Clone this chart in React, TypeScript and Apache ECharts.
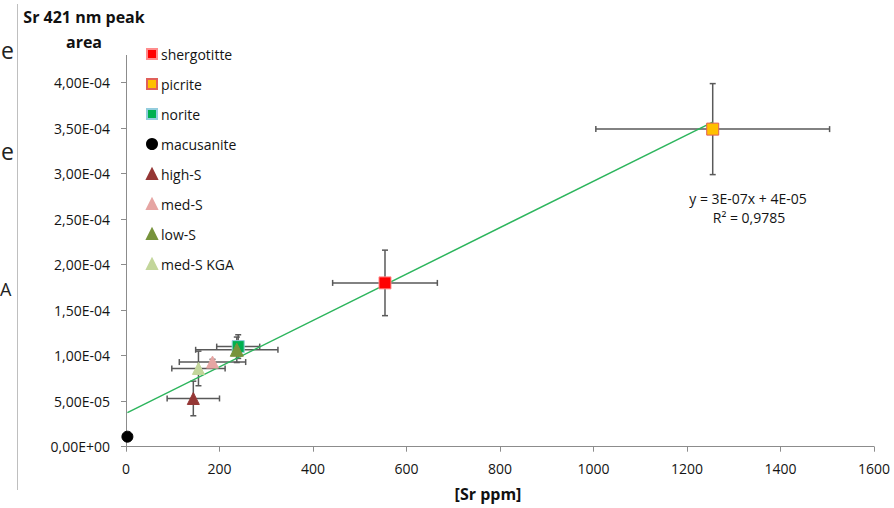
import React, { useEffect, useRef } from "react";
import * as echarts from "echarts";

// ---- data ----
const seriesNames = ["shergotitte", "picrite", "norite", "macusanite", "high-S", "med-S", "low-S", "med-S KGA"];
const xValues = [554, 1255, 240, 3, 144, 185, 237, 155];
const yValues = [1.8e-4, 3.49e-4, 1.1e-4, 1.1e-5, 5.3e-5, 9.3e-5, 1.065e-4, 8.6e-5];
const xErrors = [112, 250, 46, 0, 56, 71, 88, 57];
const yErrors = [3.6e-5, 5.0e-5, 1.3e-5, 0, 1.9e-5, 3e-6, 1.4e-5, 1.9e-5];

const xTickValues = [0, 200, 400, 600, 800, 1000, 1200, 1400, 1600];
const yTickValues = [0, 5e-5, 1e-4, 1.5e-4, 2e-4, 2.5e-4, 3e-4, 3.5e-4, 4e-4];

const trendSlope = 2.55e-7;
const trendIntercept = 3.67e-5;
const trendEquation = "y = 3E-07x + 4E-05";
const trendR2 = "R² = 0,9785";

const yAxisTitle = ["Sr 421 nm peak", "area"];
const xAxisTitle = "[Sr ppm]";

// ---- styles ----
const fills = ["#FF0000", "#FFC000", "#00B050", "#000000", "#953735", "#E6A5A3", "#77933C", "#C3D69B"];
const borders = ["#FF8C8C", "#E0605A", "#93CDDD", "#000000", "#953735", "#E6A5A3", "#77933C", "#C3D69B"];
const symbols = ["rect", "rect", "rect", "circle", "triangle", "triangle", "triangle", "triangle"];
const sizes = [12, 12, 12, 11, 12, 12, 13, 12];

function fmtY(v: number): string {
  if (Math.abs(v) < 1e-12) return "0,00E+00";
  const s = v.toExponential(2);
  const [m, e] = s.split("e");
  const ex = parseInt(e, 10);
  const sign = ex < 0 ? "-" : "+";
  const ab = Math.abs(ex);
  return m.replace(".", ",") + "E" + sign + (ab < 10 ? "0" + ab : String(ab));
}

export default function App() {
  const ref = useRef<HTMLDivElement>(null);
  useEffect(() => {
    if (!ref.current) return;
    const chart = echarts.init(ref.current, null, { renderer: "svg" });
    const font = "Open Sans";
    const textColor = "#141414";

    const errData = seriesNames.map((_, i) => [xValues[i], yValues[i], xErrors[i], yErrors[i]]);
    const tx0 = Math.min(...xValues);
    const tx1 = Math.max(...xValues);

    const scatterSeries = seriesNames.map((name, i) => ({
      name,
      type: "scatter",
      symbol: symbols[i],
      symbolSize: sizes[i],
      z: 5,
      itemStyle: { color: fills[i], borderColor: borders[i], borderWidth: 1, opacity: 1 },
      data: [[xValues[i], yValues[i]]],
    }));

    const option: any = {
      animation: false,
      textStyle: { fontFamily: font },
      grid: { left: 126, right: 20, top: 55.4, bottom: 61.3, containLabel: false },
      legend: {
        data: seriesNames.map((n, i) => ({ name: n, icon: symbols[i] })),
        orient: "vertical",
        left: 146,
        top: 46,
        padding: 0,
        itemWidth: 10,
        itemHeight: 10,
        itemGap: 14,
        selectedMode: false,
        textStyle: { fontFamily: font, fontSize: 14, color: textColor, lineHeight: 16, padding: [0, 0, 0, -1] },
      },
      xAxis: {
        type: "value",
        min: 0,
        max: 1600,
        interval: 200,
        splitLine: { show: false },
        axisLine: { show: true, onZero: false, lineStyle: { color: "#8C8C8C", width: 1 } },
        axisTick: { show: true, inside: false, length: 5, lineStyle: { color: "#8C8C8C" }, customValues: xTickValues },
        axisLabel: { fontSize: 14, color: textColor, margin: 15, fontFamily: font, customValues: xTickValues, formatter: (v: number) => String(v) },
      },
      yAxis: {
        type: "value",
        min: 0,
        max: 4.3e-4,
        interval: 5e-5,
        splitLine: { show: false },
        axisLine: { show: true, onZero: false, lineStyle: { color: "#8C8C8C", width: 1 } },
        axisTick: { show: true, inside: false, length: 5, lineStyle: { color: "#8C8C8C" }, customValues: yTickValues },
        axisLabel: {
          fontSize: 14,
          color: textColor,
          margin: 16,
          fontFamily: font,
          customValues: yTickValues,
          formatter: (v: number) => (v > 4.0001e-4 ? "" : fmtY(v)),
        },
      },
      series: [
        {
          type: "custom",
          name: "errors",
          silent: true,
          z: 2,
          encode: { x: 0, y: 1 },
          data: errData,
          renderItem: (params: any, api: any) => {
            const x = api.value(0);
            const y = api.value(1);
            const xe = api.value(2);
            const ye = api.value(3);
            const children: any[] = [];
            const st = { stroke: "#595959", lineWidth: 1.5 };
            const cap = 3;
            if (xe > 0) {
              const l = api.coord([x - xe, y]);
              const r = api.coord([x + xe, y]);
              children.push({ type: "line", shape: { x1: l[0], y1: l[1], x2: r[0], y2: r[1] }, style: st });
              children.push({ type: "line", shape: { x1: l[0], y1: l[1] - cap, x2: l[0], y2: l[1] + cap }, style: st });
              children.push({ type: "line", shape: { x1: r[0], y1: r[1] - cap, x2: r[0], y2: r[1] + cap }, style: st });
            }
            if (ye > 0) {
              const t = api.coord([x, y + ye]);
              const b = api.coord([x, y - ye]);
              children.push({ type: "line", shape: { x1: t[0], y1: t[1], x2: b[0], y2: b[1] }, style: st });
              children.push({ type: "line", shape: { x1: t[0] - cap, y1: t[1], x2: t[0] + cap, y2: t[1] }, style: st });
              children.push({ type: "line", shape: { x1: b[0] - cap, y1: b[1], x2: b[0] + cap, y2: b[1] }, style: st });
            }
            return { type: "group", children };
          },
        },
        {
          type: "line",
          name: "trend",
          silent: true,
          z: 3,
          symbol: "none",
          lineStyle: { color: "#2DB55D", width: 1.5 },
          data: [
            [tx0, trendIntercept + trendSlope * tx0],
            [tx1, trendIntercept + trendSlope * tx1],
          ],
        },
        ...scatterSeries,
      ],
      graphic: [
        { type: "line", shape: { x1: 17.5, y1: 4, x2: 17.5, y2: 490 }, style: { stroke: "#BFBFBF", lineWidth: 1 } },
        { type: "text", x: 14, y: 50, style: { text: "e", font: "23px Open Sans", fill: "#222", textAlign: "right", textVerticalAlign: "middle" } },
        { type: "text", x: 14, y: 151, style: { text: "e", font: "23px Open Sans", fill: "#222", textAlign: "right", textVerticalAlign: "middle" } },
        { type: "text", x: 0, y: 289, style: { text: "A", font: "18px Open Sans", fill: "#222", textAlign: "left", textVerticalAlign: "middle" } },
        { type: "text", x: 84, y: 17, style: { text: yAxisTitle[0], font: "bold 16px Open Sans", fill: "#111", textAlign: "center", textVerticalAlign: "middle" } },
        { type: "text", x: 84, y: 42, style: { text: yAxisTitle[1], font: "bold 16px Open Sans", fill: "#111", textAlign: "center", textVerticalAlign: "middle" } },
        { type: "text", x: 488, y: 494, style: { text: xAxisTitle, font: "bold 16px Open Sans", fill: "#111", textAlign: "center", textVerticalAlign: "middle" } },
        { type: "text", x: 748, y: 198, style: { text: trendEquation, font: "14px Open Sans", fill: textColor, textAlign: "center", textVerticalAlign: "middle" } },
        { type: "text", x: 749, y: 217, style: { text: trendR2, font: "14px Open Sans", fill: textColor, textAlign: "center", textVerticalAlign: "middle" } },
      ],
    };
    chart.setOption(option);
    return () => chart.dispose();
  }, []);
  return <div ref={ref} style={{ position: "fixed", left: 0, top: 0, width: 894, height: 508, background: "#fff" }} />;
}
